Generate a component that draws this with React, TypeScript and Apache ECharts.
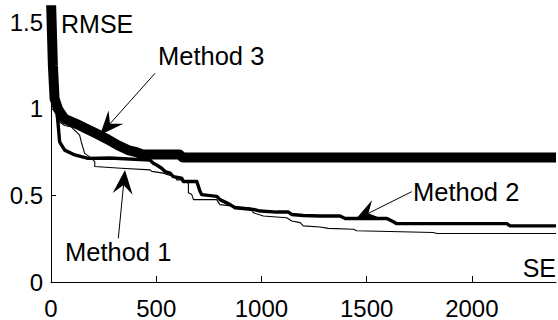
import React, { useEffect, useRef } from "react";
import * as echarts from "echarts";

const xTicks = [0, 500, 1000, 1500, 2000];
const yTicks = [0, 0.5, 1, 1.5];

const method1: [number, number][] = [
  [0, 1.63], [4, 1.46], [9, 1.25], [17, 1.06], [28, 0.98], [41, 0.924], [65, 0.904], [97, 0.895],
  [136, 0.848], [144, 0.809], [160, 0.743], [184, 0.723], [208, 0.695], [208, 0.667], [333, 0.657],
  [471, 0.648], [479, 0.639], [534, 0.629], [558, 0.619], [589, 0.609], [598, 0.59], [629, 0.59],
  [653, 0.571], [653, 0.515], [669, 0.505], [677, 0.476], [787, 0.476], [803, 0.447], [867, 0.438],
  [899, 0.433], [946, 0.429], [962, 0.4], [1009, 0.381], [1120, 0.371], [1144, 0.352], [1184, 0.343],
  [1199, 0.324], [1279, 0.318], [1318, 0.31], [1437, 0.305], [1453, 0.296], [1817, 0.286],
  [1834, 0.28], [2400, 0.28],
];

const method2: [number, number][] = [
  [0, 1.63], [4, 1.46], [9, 1.25], [17, 1.06], [28, 0.98], [33, 0.924], [41, 0.809], [65, 0.762],
  [113, 0.734], [176, 0.714], [280, 0.716], [471, 0.704], [486, 0.686], [502, 0.676], [526, 0.657],
  [542, 0.638], [566, 0.629], [581, 0.609], [621, 0.6], [629, 0.581], [693, 0.581], [708, 0.524],
  [716, 0.505], [788, 0.495], [803, 0.476], [851, 0.447], [875, 0.429], [962, 0.419], [994, 0.41],
  [1073, 0.404], [1128, 0.404], [1144, 0.39], [1199, 0.384], [1279, 0.381], [1374, 0.381], [1398, 0.367],
  [1596, 0.367], [1627, 0.348], [1643, 0.337], [2166, 0.337], [2182, 0.324], [2400, 0.324],
];

const method3: [number, number][] = [
  [0, 1.63], [4, 1.46], [9, 1.25], [17, 1.06], [33, 1.0], [65, 0.942], [120, 0.914], [168, 0.886],
  [215, 0.858], [263, 0.828], [318, 0.79], [366, 0.762], [400, 0.752], [435, 0.737], [610, 0.737],
  [625, 0.72], [2400, 0.72],
];

const FONT = "'Liberation Sans', Arial, Helvetica, sans-serif";

function arrow(tip: [number, number], tail: [number, number]) {
  const dx = tip[0] - tail[0];
  const dy = tip[1] - tail[1];
  const len = Math.hypot(dx, dy);
  const ux = dx / len, uy = dy / len;
  const nx = -uy, ny = ux;
  const L = 24, W = 10, Ln = 15;
  const b1 = [tip[0] - ux * L + nx * W, tip[1] - uy * L + ny * W];
  const b2 = [tip[0] - ux * L - nx * W, tip[1] - uy * L - ny * W];
  const nt = [tip[0] - ux * Ln, tip[1] - uy * Ln];
  return [
    { type: "line", shape: { x1: tail[0], y1: tail[1], x2: nt[0], y2: nt[1] }, style: { stroke: "#000", lineWidth: 1 } },
    { type: "polygon", shape: { points: [tip, b1, nt, b2] }, style: { fill: "#000" } },
  ];
}

function label(text: string, x: number, y: number, size: number, align: string = "left") {
  return {
    type: "text",
    x,
    y,
    style: {
      text,
      fontSize: size,
      fontFamily: FONT,
      fill: "#000",
      align,
      textAlign: align,
      verticalAlign: "middle",
      textVerticalAlign: "middle",
    },
  };
}

export default function App() {
  const ref = useRef<HTMLDivElement>(null);
  useEffect(() => {
    if (!ref.current) return;
    const chart = echarts.init(ref.current, undefined, { renderer: "svg" });
    const lineSeries = (name: string, data: [number, number][], width: number) => ({
      name,
      type: "line",
      data,
      showSymbol: false,
      symbol: "none",
      clip: true,
      lineStyle: { color: "#000", width, join: "round", cap: "butt" },
    });
    chart.setOption({
      animation: false,
      backgroundColor: "#fff",
      grid: { left: 51, right: 2, top: 10.25, bottom: 35, containLabel: false },
      xAxis: {
        type: "value",
        min: 0,
        max: 2400,
        interval: 500,
        axisLine: { show: true, lineStyle: { color: "#000", width: 1 } },
        axisTick: { show: true, inside: true, length: 6, lineStyle: { color: "#000" }, customValues: xTicks },
        axisLabel: {
          fontSize: 24,
          fontFamily: FONT,
          color: "#000",
          margin: 14,
          customValues: xTicks,
          formatter: (v: number) => String(v),
        },
        splitLine: { show: false },
      },
      yAxis: {
        type: "value",
        min: 0,
        max: 1.57,
        interval: 0.5,
        axisLine: { show: true, lineStyle: { color: "#000", width: 1 } },
        axisTick: { show: true, inside: true, length: 5, lineStyle: { color: "#000" }, customValues: yTicks },
        axisLabel: {
          fontSize: 24,
          fontFamily: FONT,
          color: "#000",
          margin: 8,
          customValues: yTicks,
          formatter: (v: number) => String(v),
        },
        splitLine: { show: false },
      },
      series: [
        lineSeries("Method 1", method1, 1.1),
        lineSeries("Method 2", method2, 3.4),
        lineSeries("Method 3", method3, 10),
      ],
      graphic: [
        label("RMSE", 61, 23.5, 25),
        label("SE", 556, 267.5, 25, "right"),
        label("Method 3", 158, 55.5, 25.5),
        label("Method 2", 413, 191.7, 25.5),
        label("Method 1", 65, 251.7, 25.5),
        ...arrow([100, 135], [155, 73.3]),
        ...arrow([355, 220], [411.7, 191.7]),
        ...arrow([125, 170], [118.3, 238.3]),
      ],
    });
    return () => chart.dispose();
  }, []);
  return (
    <div
      ref={ref}
      style={{ position: "fixed", left: 0, top: 0, width: 558, height: 320, background: "#fff" }}
    />
  );
}
